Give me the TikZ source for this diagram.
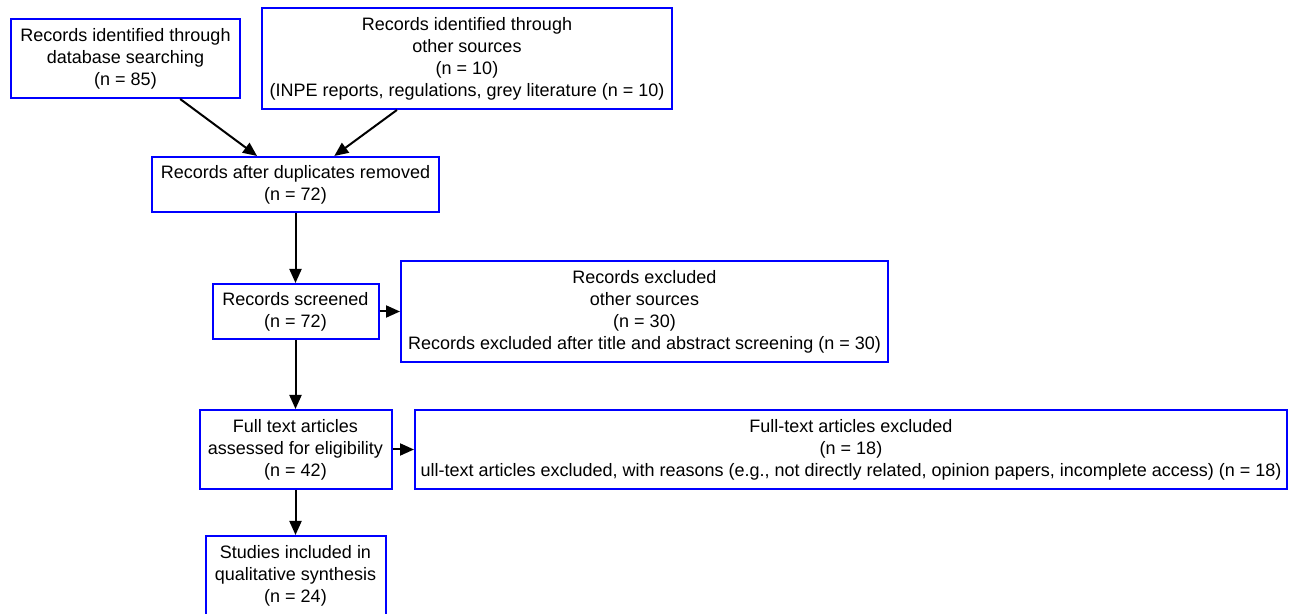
\documentclass[tikz,border=0pt]{standalone}
\usepackage{fontspec}
\setmainfont{Liberation Sans}
\usetikzlibrary{arrows.meta}

\begin{document}
\begin{tikzpicture}[x=0.5pt,y=-0.5pt,
    box_node/.style={draw=blue,line width=1pt,align=center,inner sep=0pt,font=\fontsize{9}{11}\selectfont},
    flow_edge/.style={line width=1pt,-{Triangle[length=7pt,width=6pt]}}]
    \useasboundingbox (0,0) rectangle (1296,614);
    \node[box_node,minimum width=114.5pt,minimum height=39.5pt] (db) at (125.5,58.5) {Records identified through\\database searching\\(n = 85)};
    \node[box_node,minimum width=205pt,minimum height=50.5pt] (other) at (467,58.5) {Records identified through\\other sources\\(n = 10)\\(INPE reports, regulations, grey literature (n = 10)};
    \node[box_node,minimum width=143.5pt,minimum height=27.5pt] (dup) at (295.5,184.5) {Records after duplicates removed\\(n = 72)};
    \node[box_node,minimum width=83pt,minimum height=27.5pt] (screen) at (295.5,311.5) {Records screened\\(n = 72)};
    \node[box_node,minimum width=243.5pt,minimum height=50.5pt] (excl) at (644.5,311.5) {Records excluded\\other sources\\(n = 30)\\Records excluded after title and abstract screening (n = 30)};
    \node[box_node,minimum width=96pt,minimum height=39.5pt] (full) at (295.5,449.5) {Full text articles\\assessed for eligibility\\(n = 42)};
    \node[box_node,minimum width=436pt,minimum height=39.5pt] (fullexcl) at (851,449.5) {Full-text articles excluded\\(n = 18)\\ull-text articles excluded, with reasons (e.g., not directly related, opinion papers, incomplete access) (n = 18)};
    \node[box_node,minimum width=90pt,minimum height=39.5pt] (incl) at (295.5,575.5) {Studies included in\\qualitative synthesis\\(n = 24)};
    \draw[flow_edge] (db) -- (dup);
    \draw[flow_edge] (other) -- (dup);
    \draw[flow_edge] (dup) -- (screen);
    \draw[flow_edge] (screen) -- (excl);
    \draw[flow_edge] (screen) -- (full);
    \draw[flow_edge] (full) -- (fullexcl);
    \draw[flow_edge] (full) -- (incl);
\end{tikzpicture}
\end{document}
